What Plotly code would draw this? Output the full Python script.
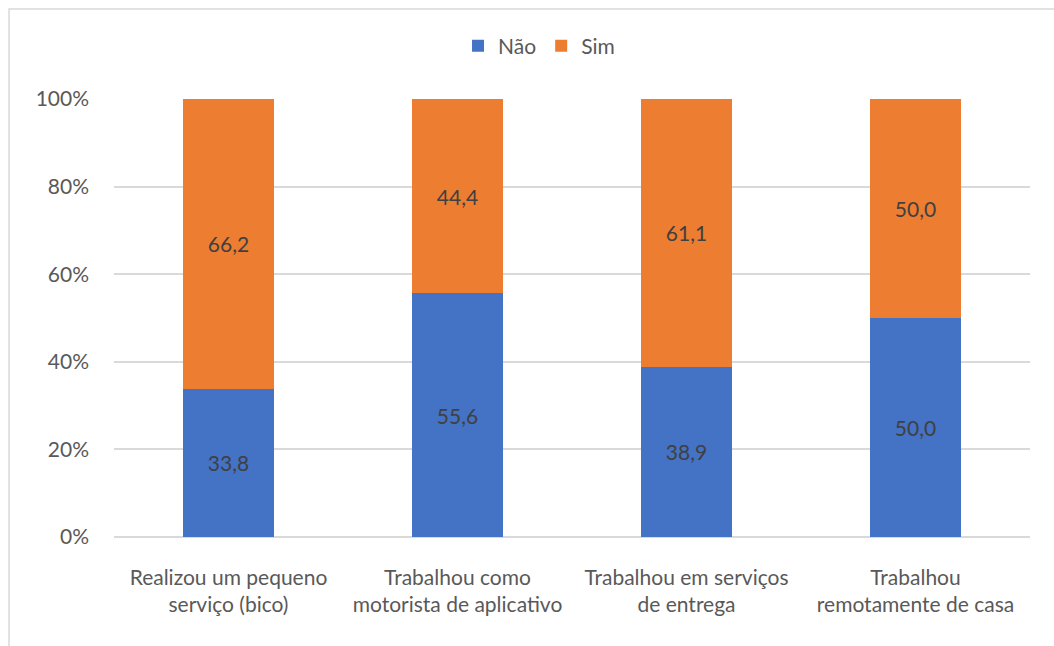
import plotly.graph_objects as go

categories = [
    "Realizou um pequeno<br>serviço (bico)",
    "Trabalhou como<br>motorista de aplicativo",
    "Trabalhou em serviços<br>de entrega",
    "Trabalhou<br>remotamente de casa",
]
nao = [33.8, 55.6, 38.9, 50.0]
sim = [66.2, 44.4, 61.1, 50.0]
y_ticks = [0, 20, 40, 60, 80, 100]

FONT = "Lato, Calibri, 'Open Sans', sans-serif"
TEXT_GRAY = "#595959"
FS = 21

fig = go.Figure()

fig.add_trace(go.Bar(
    x=categories, y=nao, name="Não",
    marker=dict(color="#4472C4", line=dict(width=0)),
    text=[f"{v:.1f}".replace(".", ",") for v in nao],
    textposition="inside", insidetextanchor="middle",
    textfont=dict(color="#404040", size=FS, family=FONT),
))
fig.add_trace(go.Bar(
    x=categories, y=sim, name="Sim",
    marker=dict(color="#ED7D31", line=dict(width=0)),
    text=[f"{v:.1f}".replace(".", ",") for v in sim],
    textposition="inside", insidetextanchor="middle",
    textfont=dict(color="#404040", size=FS, family=FONT),
))

# thin frame around the chart area (as in the spreadsheet export)
frame = dict(
    type="rect", xref="paper", yref="paper",
    x0=-0.1146, x1=1.2, y0=-0.5, y1=1.2055,
    line=dict(color="#d9d9d9", width=1.5),
    fillcolor="rgba(0,0,0,0)", layer="below",
)

fig.update_layout(
    barmode="stack",
    bargap=0.6,
    width=1054, height=646,
    margin=dict(l=114, r=24, t=99, b=109),
    paper_bgcolor="white", plot_bgcolor="white",
    font=dict(family=FONT, size=FS, color=TEXT_GRAY),
    uniformtext=dict(mode="show", minsize=FS),
    legend=dict(
        orientation="h", x=0.464, xanchor="center", y=1.121, yanchor="middle",
        font=dict(size=FS, color=TEXT_GRAY), traceorder="normal",
        itemwidth=30,
    ),
    xaxis=dict(
        showline=False, ticks="", tickfont=dict(size=FS, color=TEXT_GRAY),
        ticklabelstandoff=26,
    ),
    yaxis=dict(
        range=[0, 100], tickvals=y_ticks, ticktext=[f"{t}%" for t in y_ticks],
        showgrid=True, gridcolor="#d9d9d9", gridwidth=1.5,
        zeroline=True, zerolinecolor="#d9d9d9", zerolinewidth=1.5,
        tickfont=dict(size=FS, color=TEXT_GRAY), ticklabelstandoff=24,
    ),
    shapes=[frame],
)

fig.write_html("out.html", config={"displayModeBar": False},
               post_script="document.body.style.margin='0';")
